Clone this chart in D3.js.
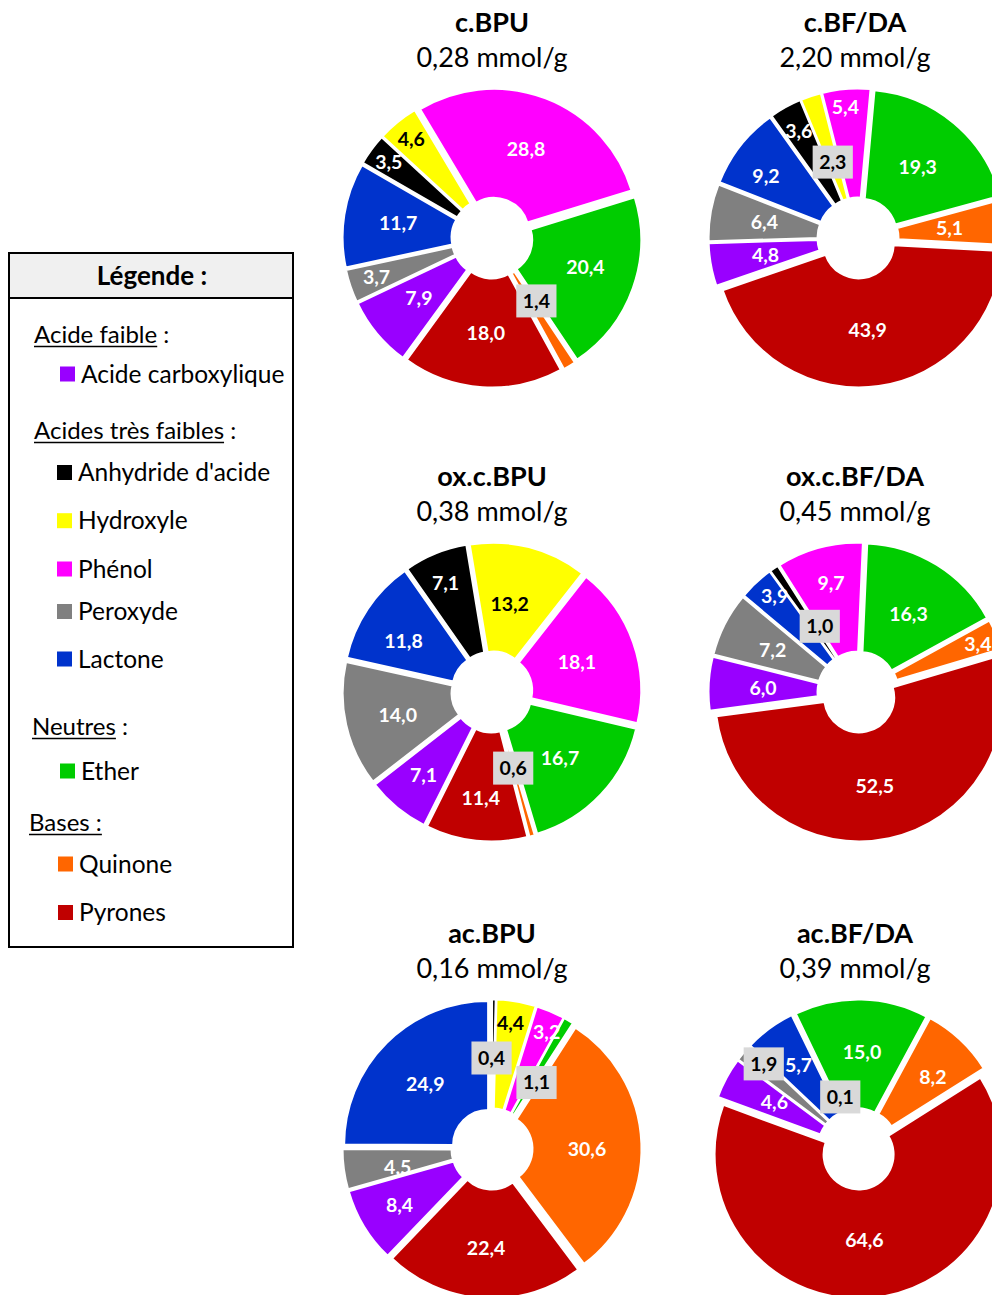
<!DOCTYPE html>
<html><head><meta charset="utf-8">
<script src="https://cdn.jsdelivr.net/npm/d3@7"></script>
<style>
body{margin:0;background:#fff}
svg{display:block}
text{font-family:Lato,"Noto Sans",sans-serif}
</style>
</head><body>
<svg id="chart" width="992" height="1295"></svg>
<script>
// Surface functions, in the clockwise order they sit on every ring
const functions = ["Anhydride d'acide","Hydroxyle","Phénol","Ether","Quinone","Pyrones","Acide carboxylique","Peroxyde","Lactone"];
const colors    = ["#000000","#ffff00","#ff00ff","#00cc00","#ff6600","#c00000","#9900ff","#808080","#0033cc"];

// Samples and their total amount of titrated sites (mmol/g)
const samples    = ["c.BPU","c.BF/DA","ox.c.BPU","ox.c.BF/DA","ac.BPU","ac.BF/DA"];
const totalSites = [0.28, 2.20, 0.38, 0.45, 0.16, 0.39];

// Share of each function (%), same order as `functions`
const cBPU    = [3.5, 4.6, 28.8, 20.4, 1.4, 18.0, 7.9, 3.7, 11.7];
const cBFDA   = [3.6, 2.3, 5.4, 19.3, 5.1, 43.9, 4.8, 6.4, 9.2];
const oxcBPU  = [7.1, 13.2, 18.1, 16.7, 0.6, 11.4, 7.1, 14.0, 11.8];
const oxcBFDA = [1.0, 0, 9.7, 16.3, 3.4, 52.5, 6.0, 7.2, 3.9];
const acBPU   = [0.4, 4.4, 3.2, 1.1, 30.6, 22.4, 8.4, 4.5, 24.9];
const acBFDA  = [0, 0, 0.1, 15.0, 8.2, 64.6, 4.6, 1.9, 5.7];
const shares  = [cBPU, cBFDA, oxcBPU, oxcBFDA, acBPU, acBFDA];

// Legend groups
const legendGroups = [
  {title: "Acide faible",        items: ["Acide carboxylique"]},
  {title: "Acides très faibles", items: ["Anhydride d'acide","Hydroxyle","Phénol","Peroxyde","Lactone"]},
  {title: "Neutres",             items: ["Ether"]},
  {title: "Bases",               items: ["Quinone","Pyrones"]}
];

// ---- layout ----
const colX = [492, 858], rowY = [238, 692, 1149];
const titleX = [492, 855];
const rInner = 35, rOuter = 144, explode = 5.5;
const startDeg = [-60, -35.5, -35, -36, 0, -26];
// data-label placement: [radius, angular nudge in degrees] around each slice's middle
const labelPolar = [
  [[128,0],[128,0],[95,0],[98,-2],[77,-4],[95,0],[95,0],[122,0],[95,0]],
  [[122,0],[80,0],[131,-1],[93,0],[92,0],[93,2],[94,0],[95,0],[111,-4]],
  [[118,-1],[90,-3],[90,0],[95,1],[79,0],[107,0],[108,0],[97,-1],[102,-4]],
  [[76,4],[0,0],[112,1],[93,1],[129,1],[96,2],[95,-1],[95,-1],[127,2]],
  [[91,-1],[127,-1],[129,2],[80,3],[95,2],[99,0],[108,0],[96,-3],[93,-1]],
  [[0,0],[0,0],[55,7],[97,1],[104,3],[91,2],[96,1],[127,2],[103,1]]
];
// labels shown in a grey callout box
const boxed = [[4],[1],[4],[0],[0,3],[2,7]];

const fr = d3.formatLocale({decimal: ",", thousands: " ", grouping: [3], currency: ["", ""]});
const f1 = fr.format(".1f"), f2 = fr.format(".2f");
const color = d3.scaleOrdinal().domain(functions).range(colors);

const svg = d3.select("#chart");
const arc = d3.arc().innerRadius(rInner).outerRadius(rOuter);

samples.forEach((name, k) => {
  const cx = colX[k % 2], cy = rowY[Math.floor(k / 2)];
  const a0 = startDeg[k] * Math.PI / 180;
  const pie = d3.pie().sort(null).value(d => d.v).startAngle(a0).endAngle(a0 + 2 * Math.PI);
  const arcs = pie(shares[k].map((v, i) => ({v, i, name: functions[i]})));

  svg.append("text").attr("x", titleX[k % 2]).attr("y", cy - 206)
    .attr("text-anchor", "middle").attr("font-size", 27).attr("font-weight", 700)
    .text(name);
  svg.append("text").attr("x", titleX[k % 2]).attr("y", cy - 171)
    .attr("text-anchor", "middle").attr("font-size", 27)
    .text(f2(totalSites[k]) + " mmol/g");

  const g = svg.append("g").attr("transform", `translate(${cx},${cy})`);
  g.selectAll("path.slice").data(arcs.filter(d => d.data.v > 0)).join("path")
    .attr("class", "slice")
    .attr("transform", d => {
      const m = (d.startAngle + d.endAngle) / 2;
      return `translate(${explode * Math.sin(m)},${-explode * Math.cos(m)})`;
    })
    .attr("d", arc)
    .attr("fill", d => color(d.data.name))
    .attr("stroke", "#fff").attr("stroke-width", 2).attr("stroke-linejoin", "miter");

  const lab = g.selectAll("g.lab").data(arcs.filter(d => d.data.v > 0)).join("g")
    .attr("class", "lab")
    .attr("transform", d => {
      const [r, nudge] = labelPolar[k][d.data.i];
      const m = (d.startAngle + d.endAngle) / 2 + nudge * Math.PI / 180;
      return `translate(${r * Math.sin(m)},${-r * Math.cos(m)})`;
    });
  lab.each(function(d) {
    const sel = d3.select(this);
    const isBox = boxed[k].includes(d.data.i);
    const t = sel.append("text").attr("text-anchor", "middle").attr("dy", "0.35em")
      .attr("font-size", 19.5).attr("font-weight", 700)
      .attr("fill", isBox || d.data.i === 1 ? "#000" : "#fff")
      .text(f1(d.data.v));
    if (isBox) {
      const w = t.node().getComputedTextLength() + 13;
      sel.insert("rect", "text").attr("x", -w / 2).attr("y", -16.5).attr("width", w).attr("height", 33)
        .attr("fill", "#d9d9d9");
    }
  });
});

// ---- legend ----
const lg = svg.append("g");
const box = {x: 9, y: 253, w: 284, h: 694, head: 45};
lg.append("rect").attr("x", box.x).attr("y", box.y).attr("width", box.w).attr("height", box.head)
  .attr("fill", "#f0f0f0");
lg.append("line").attr("x1", box.x).attr("x2", box.x + box.w).attr("y1", box.y + box.head).attr("y2", box.y + box.head)
  .attr("stroke", "#000").attr("stroke-width", 2);
lg.append("rect").attr("x", box.x).attr("y", box.y).attr("width", box.w).attr("height", box.h)
  .attr("fill", "none").attr("stroke", "#000").attr("stroke-width", 2);
lg.append("text").attr("x", box.x + box.w / 2 + 1).attr("y", 285).attr("text-anchor", "middle")
  .attr("font-size", 26).attr("font-weight", 700).text("Légende :");

const headY = [343, 439, 735, 831], headX = [34, 34, 32, 29];
const underlineColon = [false, false, false, true];
const itemY = [[374], [472.5, 520.7, 569, 611.5, 659], [771], [864, 912.5]];
const swatchX = [60, 57, 60, 58];

legendGroups.forEach((grp, j) => {
  const t = lg.append("text").attr("x", headX[j]).attr("y", headY[j]).attr("font-size", 24);
  const word = t.append("tspan").text(grp.title);
  t.append("tspan").text(" :");
  const wWord = word.node().getComputedTextLength();
  const wAll = t.node().getComputedTextLength();
  lg.append("line").attr("x1", headX[j]).attr("x2", headX[j] + (underlineColon[j] ? wAll : wWord))
    .attr("y1", headY[j] + 3.5).attr("y2", headY[j] + 3.5).attr("stroke", "#000").attr("stroke-width", 1.3);
  grp.items.forEach((it, n) => {
    const y = itemY[j][n];
    lg.append("rect").attr("x", swatchX[j]).attr("y", y - 7.5).attr("width", 15).attr("height", 15)
      .attr("fill", color(it));
    lg.append("text").attr("x", swatchX[j] + 21).attr("y", y + 8.5).attr("font-size", 24.5).text(it);
  });
});
</script>
</body></html>
